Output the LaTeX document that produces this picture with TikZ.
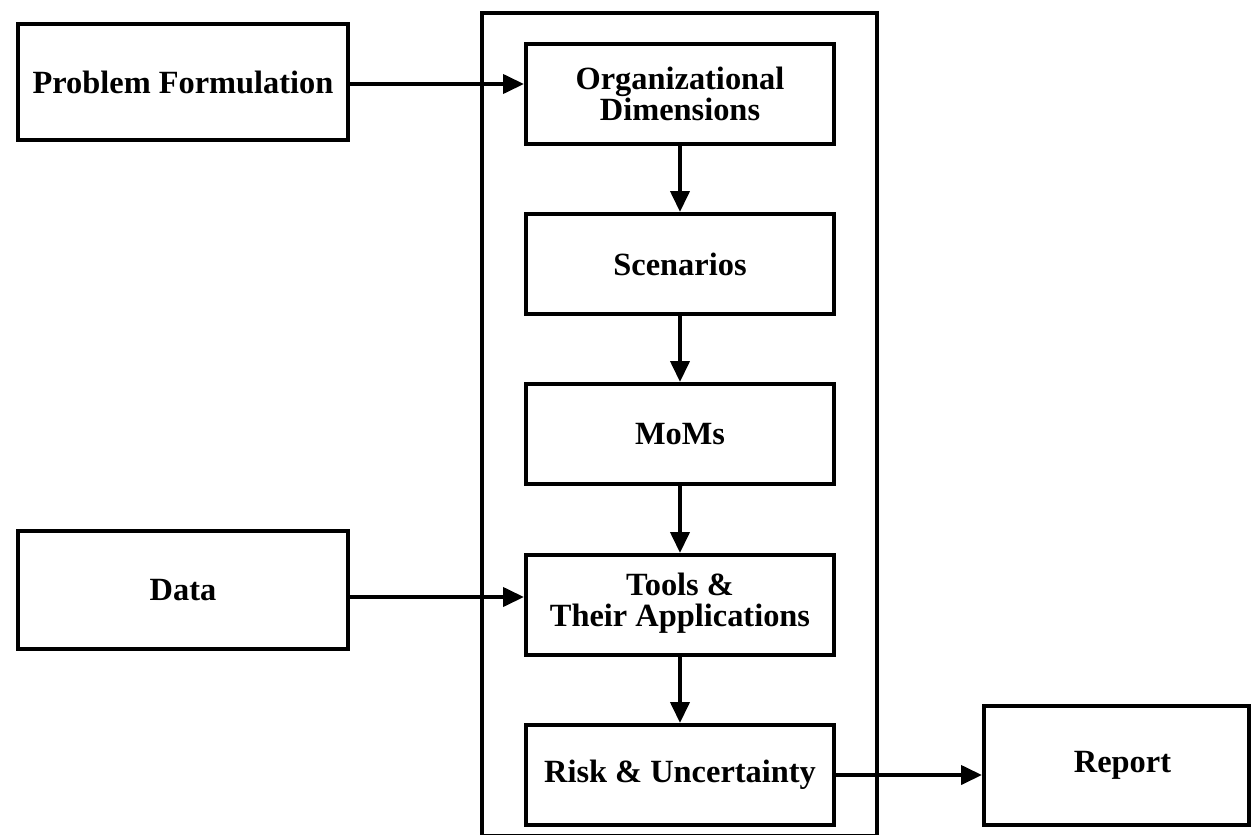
\documentclass[tikz,border=0pt]{standalone}
\usepackage{fontspec}
\setmainfont{Liberation Serif}
\usetikzlibrary{arrows.meta}
\begin{document}
\begin{tikzpicture}[x=0.5pt,y=-0.5pt,
  box/.style={draw,line width=2pt,minimum width=154pt,minimum height=50pt,inner sep=0pt,
    align=center,font=\fontsize{16.2}{15.5}\selectfont\bfseries},
  sidebox/.style={box,minimum width=165pt,minimum height=58pt},
  arr/.style={line width=2pt,-{Triangle[length=10.5pt,width=9.5pt]}}]
\useasboundingbox (0,0) rectangle (1253,835);
\node[draw,line width=2pt,minimum width=197.5pt,minimum height=411.5pt,inner sep=0pt] (frame) at (679.5,424.5) {};
\node[box] (org) at (680,94) {Organizational\\Dimensions};
\node[box] (scen) at (680,264) {Scenarios};
\node[box] (moms) at (680,434) {MoMs};
\node[box,align=center] (tools) at (680,605) {Tools \&\\Their Applications\rule[-5pt]{0pt}{0pt}};
\node[box] (risk) at (680,775) {Risk \& Uncertainty};
\node[sidebox] (pf) at (183,82) {Problem Formulation};
\node[sidebox,minimum height=59pt] (data) at (183,590) {Data};
\node[sidebox,minimum width=132.5pt,minimum height=59.5pt] (report) at (1116.5,765.5) {\hspace*{6pt}Report};
\draw[arr] ([yshift=-1pt]pf.east) -- ([yshift=-1pt]pf.east -| org.west);
\draw[arr] ([yshift=-3.5pt]data.east) -- ([yshift=-3.5pt]data.east -| tools.west);
\draw[arr] (risk.east) -- (risk.east -| report.west);
\draw[arr] (org.south) -- (scen.north);
\draw[arr] (scen.south) -- (moms.north);
\draw[arr] (moms.south) -- (tools.north);
\draw[arr] (tools.south) -- (risk.north);
\end{tikzpicture}
\end{document}
